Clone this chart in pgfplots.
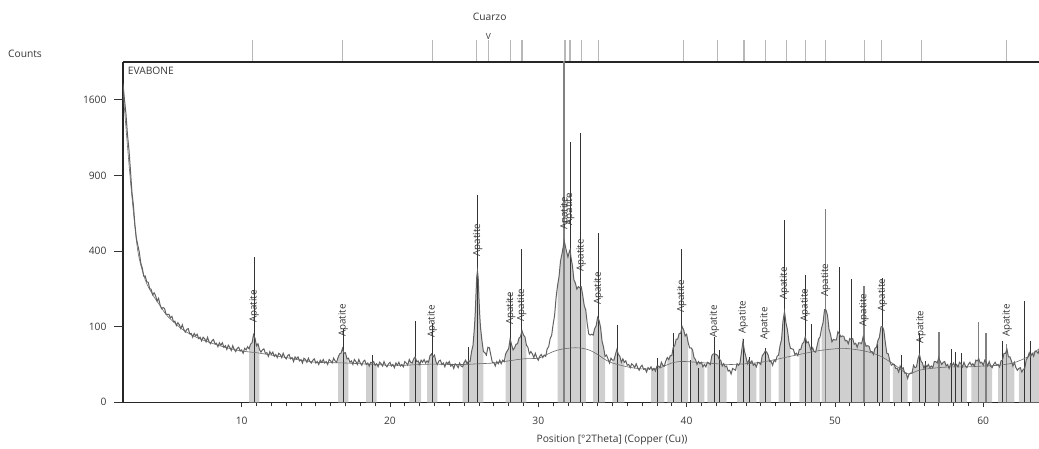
\documentclass[border=0pt]{standalone}
\usepackage{fontspec}
\setmainfont{Open Sans}
\usepackage{pgfplots}
\usepackage{pgfplotstable}
\pgfplotsset{compat=1.18}

\definecolor{txt}{gray}{0.22}
\definecolor{pat}{gray}{0.38}
\definecolor{band}{gray}{0.81}
\definecolor{stick}{gray}{0.2}
\definecolor{stickg}{gray}{0.5}
\definecolor{refl}{gray}{0.72}
\definecolor{bkg}{gray}{0.42}

% measured scan, counts vs 2theta
\pgfplotstableread[row sep=\\]{
x y\\
2.0 1775\\ 2.1 1604\\ 2.2 1454\\ 2.3 1255\\ 2.4 1117\\ 2.5 946\\ 2.6 776\\ 2.7 681\\ 2.8 555\\ 2.9 472\\
3.0 431\\ 3.1 394\\ 3.2 339\\ 3.3 315\\ 3.4 278\\ 3.5 279\\ 3.6 254\\ 3.7 252\\ 3.8 226\\ 3.9 223\\
4.0 202\\ 4.1 210\\ 4.2 198\\ 4.3 179\\ 4.4 189\\ 4.5 166\\ 4.6 153\\ 4.7 157\\ 4.8 154\\ 4.9 136\\
5.0 135\\ 5.1 135\\ 5.2 125\\ 5.3 129\\ 5.4 114\\ 5.5 115\\ 5.6 103\\ 5.7 111\\ 5.8 105\\ 5.9 95\\
6.0 105\\ 6.1 93\\ 6.2 86\\ 6.3 93\\ 6.4 95\\ 6.5 82\\ 6.6 83\\ 6.7 74\\ 6.8 83\\ 6.9 77\\
7.0 81\\ 7.1 71\\ 7.2 74\\ 7.3 66\\ 7.4 74\\ 7.5 71\\ 7.6 64\\ 7.7 74\\ 7.8 64\\ 7.9 60\\
8.0 66\\ 8.1 69\\ 8.2 60\\ 8.3 61\\ 8.4 54\\ 8.5 62\\ 8.6 57\\ 8.7 62\\ 8.8 53\\ 8.9 56\\
9.0 49\\ 9.1 57\\ 9.2 53\\ 9.3 47\\ 9.4 56\\ 9.5 49\\ 9.6 45\\ 9.7 51\\ 9.8 53\\ 9.9 46\\
10.0 48\\ 10.1 42\\ 10.2 51\\ 10.3 48\\ 10.4 54\\ 10.5 50\\ 10.6 59\\ 10.7 62\\ 10.8 80\\ 10.9 72\\
11.0 56\\ 11.1 60\\ 11.2 49\\ 11.3 44\\ 11.4 48\\ 11.5 50\\ 11.6 42\\ 11.7 43\\ 11.8 37\\ 11.9 45\\
12.0 40\\ 12.1 44\\ 12.2 37\\ 12.3 40\\ 12.4 35\\ 12.5 42\\ 12.6 40\\ 12.7 35\\ 12.8 42\\ 12.9 36\\
13.0 33\\ 13.1 38\\ 13.2 40\\ 13.3 33\\ 13.4 35\\ 13.5 29\\ 13.6 36\\ 13.7 33\\ 13.8 36\\ 13.9 30\\
14.0 32\\ 14.1 27\\ 14.2 34\\ 14.3 32\\ 14.4 28\\ 14.5 34\\ 14.6 29\\ 14.7 27\\ 14.8 31\\ 14.9 33\\
15.0 27\\ 15.1 29\\ 15.2 25\\ 15.3 31\\ 15.4 28\\ 15.5 32\\ 15.6 27\\ 15.7 29\\ 15.8 25\\ 15.9 32\\
16.0 30\\ 16.1 27\\ 16.2 34\\ 16.3 30\\ 16.4 28\\ 16.5 35\\ 16.6 41\\ 16.7 42\\ 16.8 51\\ 16.9 42\\
17.0 43\\ 17.1 33\\ 17.2 34\\ 17.3 28\\ 17.4 30\\ 17.5 25\\ 17.6 32\\ 17.7 29\\ 17.8 25\\ 17.9 32\\
18.0 27\\ 18.1 24\\ 18.2 29\\ 18.3 31\\ 18.4 25\\ 18.5 27\\ 18.6 23\\ 18.7 28\\ 18.8 27\\ 18.9 29\\
19.0 24\\ 19.1 26\\ 19.2 22\\ 19.3 28\\ 19.4 26\\ 19.5 23\\ 19.6 29\\ 19.7 24\\ 19.8 22\\ 19.9 26\\
20.0 28\\ 20.1 23\\ 20.2 25\\ 20.3 21\\ 20.4 27\\ 20.5 24\\ 20.6 28\\ 20.7 23\\ 20.8 25\\ 20.9 22\\
21.0 29\\ 21.1 27\\ 21.2 24\\ 21.3 32\\ 21.4 28\\ 21.5 27\\ 21.6 33\\ 21.7 36\\ 21.8 29\\ 21.9 30\\
22.0 25\\ 22.1 31\\ 22.2 28\\ 22.3 32\\ 22.4 27\\ 22.5 30\\ 22.6 28\\ 22.7 38\\ 22.8 41\\ 22.9 36\\
23.0 39\\ 23.1 29\\ 23.2 25\\ 23.3 30\\ 23.4 31\\ 23.5 25\\ 23.6 27\\ 23.7 22\\ 23.8 28\\ 23.9 26\\
24.0 29\\ 24.1 23\\ 24.2 25\\ 24.3 20\\ 24.4 26\\ 24.5 24\\ 24.6 21\\ 24.7 27\\ 24.8 23\\ 24.9 22\\
25.0 28\\ 25.1 31\\ 25.2 26\\ 25.3 30\\ 25.4 29\\ 25.5 45\\ 25.6 57\\ 25.7 101\\ 25.75 140\\ 25.8 204\\
25.85 275\\ 25.9 302\\ 25.95 270\\ 26.0 190\\ 26.05 135\\ 26.1 100\\ 26.2 67\\ 26.3 45\\ 26.4 43\\ 26.5 39\\
26.6 53\\ 26.7 52\\ 26.8 39\\ 26.9 28\\ 27.0 28\\ 27.1 23\\ 27.2 29\\ 27.3 26\\ 27.4 31\\ 27.5 26\\
27.6 31\\ 27.7 29\\ 27.8 41\\ 27.9 46\\ 28.0 50\\ 28.1 70\\ 28.2 58\\ 28.3 48\\ 28.4 52\\ 28.5 59\\
28.6 60\\ 28.7 72\\ 28.8 75\\ 28.9 90\\ 29.0 79\\ 29.1 75\\ 29.2 57\\ 29.3 53\\ 29.4 41\\ 29.5 45\\
29.6 41\\ 29.7 35\\ 29.8 42\\ 29.9 35\\ 30.0 31\\ 30.1 37\\ 30.2 40\\ 30.3 35\\ 30.4 39\\ 30.5 37\\
30.6 50\\ 30.7 54\\ 30.8 71\\ 30.9 78\\ 31.0 106\\ 31.1 132\\ 31.2 192\\ 31.3 238\\ 31.4 277\\ 31.5 350\\
31.6 386\\ 31.7 432\\ 31.75 455\\ 31.8 436\\ 31.9 399\\ 32.0 369\\ 32.1 400\\ 32.15 408\\ 32.2 369\\ 32.3 327\\
32.4 263\\ 32.5 249\\ 32.6 224\\ 32.7 234\\ 32.8 229\\ 32.9 233\\ 33.0 198\\ 33.1 163\\ 33.2 149\\ 33.3 108\\
33.4 82\\ 33.5 79\\ 33.6 81\\ 33.7 79\\ 33.8 95\\ 33.9 102\\ 34.0 126\\ 34.1 117\\ 34.2 98\\ 34.3 65\\
34.4 53\\ 34.5 37\\ 34.6 39\\ 34.7 33\\ 34.8 27\\ 34.9 34\\ 35.0 31\\ 35.1 31\\ 35.2 40\\ 35.3 49\\
35.4 40\\ 35.5 37\\ 35.6 28\\ 35.7 33\\ 35.8 28\\ 35.9 30\\ 36.0 24\\ 36.1 25\\ 36.2 21\\ 36.3 26\\
36.4 24\\ 36.5 21\\ 36.6 26\\ 36.7 21\\ 36.8 18\\ 36.9 22\\ 37.0 24\\ 37.1 19\\ 37.2 20\\ 37.3 16\\
37.4 21\\ 37.5 19\\ 37.6 22\\ 37.7 18\\ 37.8 20\\ 37.9 17\\ 38.0 23\\ 38.1 23\\ 38.2 21\\ 38.3 28\\
38.4 24\\ 38.5 23\\ 38.6 30\\ 38.7 35\\ 38.8 32\\ 38.9 38\\ 39.0 38\\ 39.1 53\\ 39.2 56\\ 39.3 70\\
39.4 70\\ 39.5 83\\ 39.6 83\\ 39.7 100\\ 39.8 92\\ 39.9 77\\ 40.0 81\\ 40.1 63\\ 40.2 52\\ 40.3 52\\
40.4 48\\ 40.5 35\\ 40.6 32\\ 40.7 25\\ 40.8 29\\ 40.9 26\\ 41.0 28\\ 41.1 22\\ 41.2 25\\ 41.3 22\\
41.4 28\\ 41.5 27\\ 41.6 25\\ 41.7 38\\ 41.8 41\\ 41.9 41\\ 42.0 40\\ 42.1 38\\ 42.2 32\\ 42.3 31\\
42.4 23\\ 42.5 26\\ 42.6 22\\ 42.7 23\\ 42.8 17\\ 42.9 18\\ 43.0 14\\ 43.1 20\\ 43.2 19\\ 43.3 18\\
43.4 26\\ 43.5 24\\ 43.6 27\\ 43.7 44\\ 43.8 65\\ 43.9 46\\ 44.0 36\\ 44.1 26\\ 44.2 31\\ 44.3 27\\
44.4 30\\ 44.5 24\\ 44.6 26\\ 44.7 22\\ 44.8 28\\ 44.9 27\\ 45.0 25\\ 45.1 38\\ 45.2 41\\ 45.3 46\\
45.4 44\\ 45.5 39\\ 45.6 29\\ 45.7 29\\ 45.8 24\\ 45.9 31\\ 46.0 29\\ 46.1 37\\ 46.2 39\\ 46.3 56\\
46.4 69\\ 46.5 115\\ 46.6 144\\ 46.7 110\\ 46.8 92\\ 46.9 64\\ 47.0 51\\ 47.1 50\\ 47.2 49\\ 47.3 40\\
47.4 42\\ 47.5 38\\ 47.6 49\\ 47.7 49\\ 47.8 60\\ 47.9 63\\ 48.0 75\\ 48.1 62\\ 48.2 64\\ 48.3 55\\
48.4 46\\ 48.5 52\\ 48.6 45\\ 48.7 44\\ 48.8 56\\ 48.9 70\\ 49.0 75\\ 49.1 96\\ 49.2 111\\ 49.3 150\\
49.4 149\\ 49.5 132\\ 49.6 94\\ 49.7 81\\ 49.8 64\\ 49.9 69\\ 50.0 68\\ 50.1 68\\ 50.2 87\\ 50.3 82\\
50.4 75\\ 50.5 77\\ 50.6 76\\ 50.7 66\\ 50.8 67\\ 50.9 60\\ 51.0 71\\ 51.1 69\\ 51.2 71\\ 51.3 59\\
51.4 61\\ 51.5 53\\ 51.6 62\\ 51.7 62\\ 51.8 60\\ 51.9 75\\ 52.0 64\\ 52.1 55\\ 52.2 56\\ 52.3 55\\
52.4 45\\ 52.5 45\\ 52.6 40\\ 52.7 51\\ 52.8 53\\ 52.9 67\\ 53.0 74\\ 53.1 99\\ 53.2 101\\ 53.3 90\\
53.4 62\\ 53.5 42\\ 53.6 41\\ 53.7 30\\ 53.8 24\\ 53.9 25\\ 54.0 25\\ 54.1 20\\ 54.2 20\\ 54.3 16\\
54.4 23\\ 54.5 19\\ 54.6 21\\ 54.7 15\\ 54.8 15\\ 54.9 10\\ 55.0 14\\ 55.1 15\\ 55.2 15\\ 55.3 24\\
55.4 21\\ 55.5 22\\ 55.6 33\\ 55.7 40\\ 55.8 30\\ 55.9 27\\ 56.0 20\\ 56.1 25\\ 56.2 22\\ 56.3 25\\
56.4 21\\ 56.5 23\\ 56.6 21\\ 56.7 29\\ 56.8 29\\ 56.9 27\\ 57.0 35\\ 57.1 29\\ 57.2 25\\ 57.3 28\\
57.4 29\\ 57.5 23\\ 57.6 25\\ 57.7 20\\ 57.8 26\\ 57.9 24\\ 58.0 27\\ 58.1 22\\ 58.2 25\\ 58.3 22\\
58.4 28\\ 58.5 26\\ 58.6 22\\ 58.7 28\\ 58.8 23\\ 58.9 21\\ 59.0 25\\ 59.1 28\\ 59.2 24\\ 59.3 26\\
59.4 23\\ 59.5 31\\ 59.6 30\\ 59.7 33\\ 59.8 27\\ 59.9 28\\ 60.0 24\\ 60.1 31\\ 60.2 28\\ 60.3 23\\
60.4 29\\ 60.5 23\\ 60.6 21\\ 60.7 25\\ 60.8 28\\ 60.9 24\\ 61.0 25\\ 61.1 22\\ 61.2 30\\ 61.3 31\\
61.4 42\\ 61.5 42\\ 61.6 49\\ 61.7 36\\ 61.8 36\\ 61.9 30\\ 62.0 23\\ 62.1 28\\ 62.2 21\\ 62.3 18\\
62.4 20\\ 62.5 21\\ 62.6 16\\ 62.7 19\\ 62.8 20\\ 62.9 32\\ 63.0 35\\ 63.1 43\\ 63.2 37\\ 63.3 42\\
63.4 37\\ 63.5 46\\ 63.6 45\\ 63.7 42\\ 63.8 51\\
}\scan

\begin{document}
\begin{tikzpicture}
\useasboundingbox (0,0) rectangle (1039bp,449bp);

% reference pattern strip above the plot
\begin{axis}[
  at={(123bp,387bp)}, anchor=south west,
  scale only axis, width=916bp, height=22bp,
  xmin=2, xmax=63.76, ymin=0, ymax=1,
  hide axis, clip=false,
]
\addplot[ycomb, refl, line width=1.1bp, mark=none] coordinates {
  (10.71,1) (16.81,1) (22.88,1) (25.85,1) (26.63,1) (28.14,1) (28.90,1)
  (31.80,1) (32.14,1) (32.90,1) (34.05,1) (39.78,1) (42.07,1) (43.87,1)
  (45.29,1) (46.75,1) (48.03,1) (49.38,1) (51.98,1) (53.16,1) (55.81,1) (61.58,1)
};
\node[font=\fontsize{8.5}{9}\selectfont, text=txt, inner sep=0pt] at (axis cs:26.63,1.16) {V};
\node[font=\fontsize{10.3}{12}\selectfont, text=txt, inner sep=0pt] at (axis cs:26.72,2.06) {Cuarzo};
\end{axis}

\begin{axis}[
  at={(123bp,46.7bp)}, anchor=south west,
  scale only axis, width=916bp, height=340.3bp,
  xmin=2, xmax=63.76, ymin=0, ymax=2025,
  y coord trafo/.code={\pgfmathparse{sqrt(#1)}},
  y coord inv trafo/.code={\pgfmathparse{(#1)^2}},
  axis x line=box, axis y line=left,
  axis line style={-, line width=1.2bp, black!85},
  clip mode=individual,
  tick pos=left, tick align=outside,
  major tick length=5bp, minor tick length=4bp,
  tick style={black!80, line width=0.8bp},
  xtick={10,20,30,40,50,60}, minor x tick num=9,
  ytick=\empty,
  extra y ticks={0,100,400,900,1600},
  extra y tick labels={0,100,400,900,1600},
  extra y tick style={major tick length=9bp},
  /pgf/number format/assume math mode=true,
  ticklabel style={font=\fontsize{10.3}{12}\selectfont, text=txt},
  yticklabel style={xshift=-4bp},
  xticklabel style={yshift=-6bp},
  xlabel={Position [°2Theta] (Copper (Cu))},
  xlabel style={at={(axis description cs:0.5338,-0.1108)}, anchor=center,
    font=\fontsize{10.3}{12}\selectfont, text=txt},
  ylabel={Counts},
  ylabel style={at={(axis description cs:-0.107,1.0235)}, anchor=center, rotate=-90,
    font=\fontsize{10.3}{12}\selectfont, text=txt},
]
% shaded profile ranges
\addplot[draw=none, fill=band, restrict x to domain=10.45:11.23] table {\scan} \closedcycle;
\addplot[draw=none, fill=band, restrict x to domain=16.45:17.26] table {\scan} \closedcycle;
\addplot[draw=none, fill=band, restrict x to domain=18.38:19.18] table {\scan} \closedcycle;
\addplot[draw=none, fill=band, restrict x to domain=21.28:22.14] table {\scan} \closedcycle;
\addplot[draw=none, fill=band, restrict x to domain=22.43:23.26] table {\scan} \closedcycle;
\addplot[draw=none, fill=band, restrict x to domain=24.87:26.36] table {\scan} \closedcycle;
\addplot[draw=none, fill=band, restrict x to domain=27.71:29.22] table {\scan} \closedcycle;
\addplot[draw=none, fill=band, restrict x to domain=31.28:33.22] table {\scan} \closedcycle;
\addplot[draw=none, fill=band, restrict x to domain=33.64:34.5] table {\scan} \closedcycle;
\addplot[draw=none, fill=band, restrict x to domain=34.95:35.86] table {\scan} \closedcycle;
\addplot[draw=none, fill=band, restrict x to domain=37.55:38.5] table {\scan} \closedcycle;
\addplot[draw=none, fill=band, restrict x to domain=38.7:40.15] table {\scan} \closedcycle;
\addplot[draw=none, fill=band, restrict x to domain=40.25:41.24] table {\scan} \closedcycle;
\addplot[draw=none, fill=band, restrict x to domain=41.4:42.7] table {\scan} \closedcycle;
\addplot[draw=none, fill=band, restrict x to domain=43.38:44.73] table {\scan} \closedcycle;
\addplot[draw=none, fill=band, restrict x to domain=44.9:45.74] table {\scan} \closedcycle;
\addplot[draw=none, fill=band, restrict x to domain=46.12:47.09] table {\scan} \closedcycle;
\addplot[draw=none, fill=band, restrict x to domain=47.53:49.0] table {\scan} \closedcycle;
\addplot[draw=none, fill=band, restrict x to domain=49.05:53.7] table {\scan} \closedcycle;
\addplot[draw=none, fill=band, restrict x to domain=53.9:54.9] table {\scan} \closedcycle;
\addplot[draw=none, fill=band, restrict x to domain=55.2:58.97] table {\scan} \closedcycle;
\addplot[draw=none, fill=band, restrict x to domain=59.2:60.65] table {\scan} \closedcycle;
\addplot[draw=none, fill=band, restrict x to domain=60.92:62.13] table {\scan} \closedcycle;
\addplot[draw=none, fill=band, restrict x to domain=62.33:63.8] table {\scan} \closedcycle;

% peak list sticks
\addplot[ycomb, stickg, line width=1.2bp, mark=none] coordinates {
  (31.73,3000) (49.38,652) (51.96,237) (57.02,86) (59.67,114) (60.19,85) (61.58,60)
};
\addplot[ycomb, stick, line width=0.6bp, mark=none] coordinates {
  (10.85,371) (16.85,95) (18.83,39) (21.73,117) (22.85,110) (25.28,54) (25.91,751)
  (28.14,208) (28.88,411) (32.18,1189) (32.81,1266) (34.05,500) (35.35,105)
  (38.05,34) (39.1,85) (39.67,411) (40.28,31) (40.79,20) (41.87,75) (42.2,48)
  (43.82,70) (44.23,36) (45.29,51) (46.59,584) (47.99,283) (48.43,108) (50.3,322)
  (51.13,266) (52.86,60) (53.2,269) (54.46,39) (55.69,83) (56.12,30) (57.83,50)
  (58.14,45) (58.55,42) (61.31,66) (62.77,181) (63.15,66)
};

% background
\addplot[bkg, line width=0.6bp, smooth, mark=none] coordinates {
  (2.0,1700) (2.3,1150) (2.6,740) (3.0,400) (3.5,262) (4,203) (4.5,163) (5,130)
  (6,93) (7,73) (8,61) (9,52) (10,46) (11,43) (12,39) (13,35) (14,31) (15,28)
  (16,27.5) (17,27) (18,26) (19,25) (20,24) (21,24) (22,25) (23,25.5) (24,25)
  (25,25) (26,26) (27,27) (28,30) (29,33) (30,34) (30.5,39) (31,45) (31.5,49)
  (32,51) (32.5,52) (33,51) (33.5,47) (34,40) (34.5,32) (35,27) (36,22) (37,19.5)
  (38,20) (38.5,23) (39,27) (39.5,29) (40,29) (41,27.5) (42,26) (43,25) (44,26)
  (45,28) (46,32) (47,37) (48,42) (49,47) (50,50) (50.5,51) (51,50) (52,46)
  (53,38) (54,25) (54.5,18) (55,14) (55.5,17) (56,19) (57,21) (58,22) (59,22)
  (60,23) (61,24) (62,27) (63,36) (63.76,50)
};

% scan
\addplot[pat, line width=1.0bp, mark=none] table {\scan};

% phase labels
\addplot[draw=none, mark=none, nodes near coords={Apatite},
  every node near coord/.style={rotate=90, anchor=west, inner sep=0pt,
    font=\fontsize{9.8}{10}\selectfont, text=black!80}] coordinates {
  (10.85,110) (16.85,75) (22.85,72) (25.91,371) (28.14,105) (28.88,114)
  (31.8,520) (32.12,545) (32.9,298) (34.05,166) (39.67,139) (41.87,72)
  (43.82,83) (45.29,68) (46.59,183) (47.99,114) (49.38,195) (51.96,100)
  (53.2,144) (55.8,61) (61.62,75)
};

\node[anchor=west, inner sep=0pt, font=\fontsize{10.3}{12}\selectfont, text=txt]
  at (rel axis cs:0,1) [xshift=4.7bp, yshift=-8.7bp] {EVABONE};
\end{axis}
\end{tikzpicture}
\end{document}
